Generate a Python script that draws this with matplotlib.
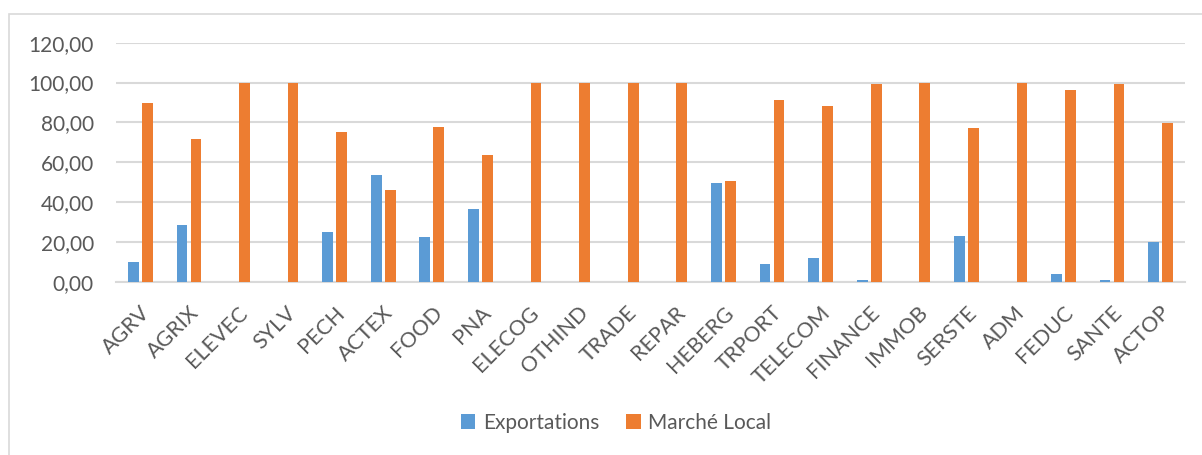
import matplotlib
matplotlib.use("Agg")
import matplotlib.pyplot as plt
import numpy as np
from matplotlib.patches import Rectangle

categories = ["AGRV", "AGRIX", "ELEVEC", "SYLV", "PECH", "ACTEX", "FOOD", "PNA",
              "ELECOG", "OTHIND", "TRADE", "REPAR", "HEBERG", "TRPORT", "TELECOM",
              "FINANCE", "IMMOB", "SERSTE", "ADM", "FEDUC", "SANTE", "ACTOP"]
exportations = [10.0, 28.5, 0.0, 0.0, 24.9, 53.7, 22.3, 36.3,
                0.0, 0.0, 0.0, 0.0, 49.5, 8.7, 11.7,
                0.8, 0.0, 22.8, 0.0, 3.7, 0.8, 20.1]
marche_local = [89.7, 71.5, 100.0, 100.0, 75.0, 46.0, 77.7, 63.6,
                100.0, 100.0, 100.0, 100.0, 50.4, 91.0, 88.2,
                99.2, 100.0, 77.0, 100.0, 96.1, 99.2, 79.7]
yticks = [0, 20, 40, 60, 80, 100, 120]
ytick_labels = ["0,00", "20,00", "40,00", "60,00", "80,00", "100,00", "120,00"]
series_names = ["Exportations", "Marché Local"]

plt.rcParams['font.family'] = ['Lato', 'DejaVu Sans']
W, H = 1202, 455
fig = plt.figure(figsize=(W / 100, H / 100), dpi=100)
fig.patch.set_facecolor("white")

# outer chart border
fig.patches.append(Rectangle((9 / W, -0.1), 2.0, 1 - 14 / H + 0.1, transform=fig.transFigure,
                             fill=False, edgecolor="#d9d9d9", linewidth=1.2, zorder=0))

ax = fig.add_axes([116 / W, 1 - 281.7 / H, (1185 - 116) / W, (281.7 - 42.7) / H])
x = np.arange(len(categories))
w = 0.22
off = 0.144
blue = "#5B9BD5"
orange = "#ED7D31"
ax.bar(x - off, exportations, width=w, color=blue, label=series_names[0], zorder=3)
ax.bar(x + off, marche_local, width=w, color=orange, label=series_names[1], zorder=3)

ax.set_xlim(-0.5, len(categories) - 0.5)
ax.set_ylim(0, 120)
ax.set_yticks(yticks)
ax.set_yticklabels(ytick_labels)
ax.yaxis.grid(True, color="#d9d9d9", linewidth=1.5, zorder=0)
ax.set_axisbelow(True)
for s in ["top", "right", "left"]:
    ax.spines[s].set_visible(False)
ax.spines["bottom"].set_color("#d9d9d9")
ax.spines["bottom"].set_linewidth(1.5)
ax.tick_params(axis="y", length=0, pad=16, labelsize=15, labelcolor="#595959")
ax.tick_params(axis="x", length=0, pad=15, labelsize=15.5, labelcolor="#595959")
ax.set_xticks(x)
ax.set_xticklabels(categories, rotation=45, ha="right", va="top", rotation_mode="anchor")

fig.legend(loc="center", bbox_to_anchor=(616 / W, 1 - 423 / H), ncol=2, frameon=False,
           fontsize=15, labelcolor="#595959", handlelength=0.7, handleheight=0.7,
           handletextpad=0.35, columnspacing=1.3)

fig.savefig("out.png", dpi=100, facecolor="white")
